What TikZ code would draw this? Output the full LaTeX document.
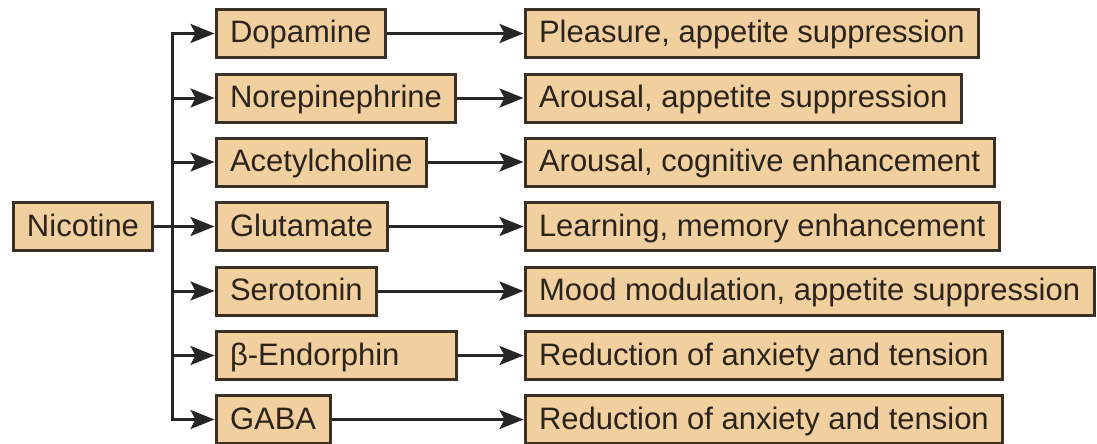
\documentclass[tikz,border=0pt]{standalone}
\usepackage{fontspec}
\setmainfont{Liberation Sans}
\usetikzlibrary{arrows.meta}
\definecolor{boxfill}{HTML}{F2CF9E}
\definecolor{boxline}{HTML}{3B3024}
\definecolor{wire}{HTML}{262626}
\definecolor{ink}{HTML}{2A241D}
\begin{document}
\begin{tikzpicture}[x=1pt,y=-1pt]
    \useasboundingbox (0,0) rectangle (1097,444);
    \begin{scope}
        \tikzstyle{every node}=[fill=boxfill, draw=boxline, line width=3pt, text=ink, anchor=west, inner xsep=14pt, minimum height=48pt, text height=24pt, text depth=5pt, font=\fontsize{31}{31}\selectfont]
        \node (nic) at (11.5,226.5) {Nicotine};
        \node (dop) at (214.5,33.5) {Dopamine};
        \node (nor) at (214.5,98) {Norepinephrine};
        \node (ace) at (214.5,162) {Acetylcholine};
        \node (glu) at (214.5,226.5) {Glutamate};
        \node (ser) at (214.5,291) {Serotonin};
        \node[text width=212pt, align=left] (end) at (214.5,355.5) {β-Endorphin};
        \node (gab) at (214.5,419.5) {GABA};
        \node (ple) at (523.5,33.5) {Pleasure, appetite suppression};
        \node (aro) at (523.5,98) {Arousal, appetite suppression};
        \node (cog) at (523.5,162) {Arousal, cognitive enhancement};
        \node (lea) at (523.5,226.5) {Learning, memory enhancement};
        \node (moo) at (523.5,291) {Mood modulation, appetite suppression};
        \node (an1) at (523.5,355.5) {Reduction of anxiety and tension};
        \node (an2) at (523.5,419.5) {Reduction of anxiety and tension};
    \end{scope}
    \coordinate (trunk) at (172,0);
    \draw[wire, line width=3pt, line cap=rect] (trunk |- dop) -- (trunk |- gab);
    \begin{scope}
        \tikzstyle{every edge}=[draw, wire, line width=3pt, -{Stealth[length=24pt,width=19pt,inset=5pt]}]
        \path
        (nic) edge[-] (trunk |- nic)
        (trunk |- dop) edge (dop)
        (trunk |- nor) edge (nor)
        (trunk |- ace) edge (ace)
        (trunk |- glu) edge (glu)
        (trunk |- ser) edge (ser)
        (trunk |- end) edge (end)
        (trunk |- gab) edge (gab)
        (dop) edge (ple)
        (nor) edge (aro)
        (ace) edge (cog)
        (glu) edge (lea)
        (ser) edge (moo)
        (end) edge (an1)
        (gab) edge (an2)
        ;
    \end{scope}
\end{tikzpicture}
\end{document}
